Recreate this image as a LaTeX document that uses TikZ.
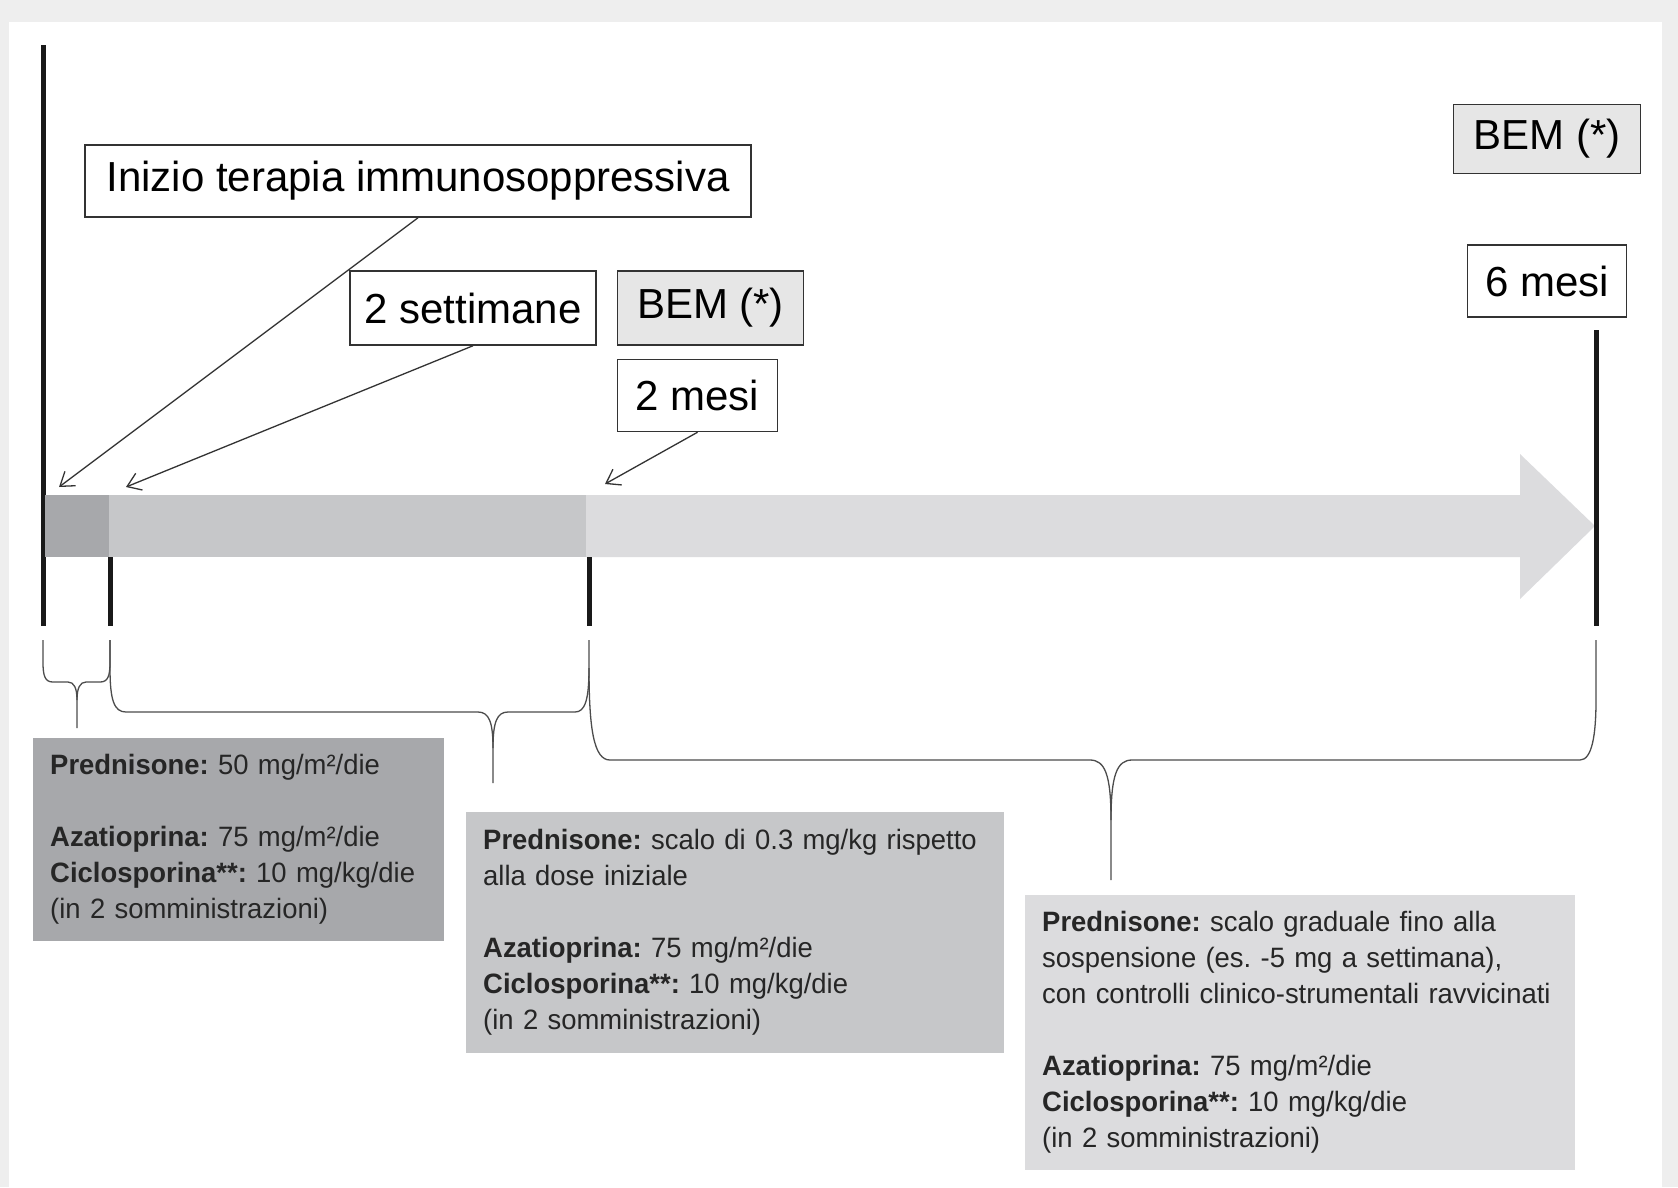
\documentclass[tikz,border=0pt]{standalone}
\usepackage{fontspec}
\setmainfont{Liberation Sans}
\newfontfamily\dosefont[FakeStretch=0.98]{Liberation Sans}
\usepackage{tikz}
\usetikzlibrary{arrows.meta,positioning}
\definecolor{darkseg}{HTML}{A7A8AB}
\definecolor{midseg}{HTML}{C6C7C9}
\definecolor{lightseg}{HTML}{DCDCDE}
\definecolor{bemgray}{HTML}{E6E6E6}
\definecolor{framegray}{HTML}{EEEEEE}

\begin{document}
\frenchspacing
\begin{tikzpicture}[
    x=1pt, y=-1pt,
    lbl/.style={draw=black!80, line width=1.5pt, fill=white, minimum height=72pt, inner sep=0pt, font=\fontsize{42}{50}\selectfont},
    bem/.style={lbl, fill=bemgray},
    dose/.style={anchor=north west, align=left, inner xsep=17pt, inner ysep=0pt, font=\dosefont\fontsize{28}{36}\selectfont, text=black!85},
    arrow/.style={-{Straight Barb[length=13pt, width=18pt]}, line width=1.3pt, draw=black!80},
    brace/.style={line width=1.3pt, draw=black!70},
    tick/.style={line width=5pt, draw=black!90}
]
\useasboundingbox (0,0) rectangle (1678,1187);
\fill[framegray] (0,0) rectangle (1678,1187);
\fill[white] (9,22) rectangle (1662,1187);

% timeline bar
\draw[tick] (43,45) -- (43,626);
\fill[lightseg] (586,495) -- (1520,495) -- (1520,454) -- (1595,526) -- (1520,599) -- (1520,557) -- (586,557) -- cycle;
\fill[midseg] (109,495) rectangle (586,557);
\fill[darkseg] (45,495) rectangle (109,557);
\draw[tick] (110,557) -- (110,626);
\draw[tick] (589,557) -- (589,626);
\draw[tick] (1596,330) -- (1596,626);

% time labels
\node[lbl, minimum width=666pt] (inizio) at (418,181) {Inizio terapia immunosoppressiva};
\node[lbl, minimum width=246pt, minimum height=74pt] (sett) at (473,308) {2 settimane};
\node[bem, minimum width=186pt, minimum height=74pt, right=20pt of sett] (bemA) {BEM (*)};
\node[lbl, minimum width=160pt, below right=13pt and 0pt of bemA.south west] (mesi2) {2 mesi};
\node[bem, minimum width=187pt, minimum height=69pt] (bemB) at (1547,139) {BEM (*)};
\node[lbl, minimum width=159pt, below=70pt of bemB] (mesi6) {6 mesi};

\coordinate (t0) at (59,487);
\coordinate (t1) at (126,487);
\coordinate (t2) at (605,484);
\draw[arrow] (inizio.south) -- (t0);
\draw[arrow] (sett.south) -- (t1);
\draw[arrow] (mesi2.south) -- (t2);

% braces under the phases
\draw[brace] (43,640) -- (43,662) .. controls (43,676) and (45,682) .. (53,682) -- (68,682) .. controls (74,682) and (77,688) .. (77,700) -- (77,728);
\draw[brace] (77,700) .. controls (77,688) and (80,682) .. (86,682) -- (100,682) .. controls (108,682) and (110,676) .. (110,662) -- (110,640);
\draw[brace] (110,640) -- (110,668) .. controls (110,700) and (114,712) .. (126,712) -- (478,712) .. controls (489,712) and (493,722) .. (493,748) -- (493,783);
\draw[brace] (493,748) .. controls (493,722) and (497,712) .. (508,712) -- (575,712) .. controls (585,712) and (589,700) .. (589,668) -- (589,640);
\draw[brace] (589,668) .. controls (589,730) and (594,760) .. (610,760) -- (1090,760) .. controls (1105,760) and (1111,775) .. (1111,820) -- (1111,880);
\draw[brace] (1111,820) .. controls (1111,775) and (1117,760) .. (1132,760) -- (1580,760) .. controls (1592,760) and (1596,735) .. (1596,700) -- (1596,640);

% dosages
\node[dose, fill=darkseg, text width=377pt, minimum height=203pt] (doseA) at (33,738)
  {\textbf{Prednisone:} 50 mg/m²/die\\[36pt]
   \textbf{Azatioprina:} 75 mg/m²/die\\
   \textbf{Ciclosporina**:} 10 mg/kg/die\\
   (in 2 somministrazioni)};
\node[dose, fill=midseg, text width=504pt, minimum height=241pt] (doseB) at (466,812)
  {\textbf{Prednisone:} scalo di 0.3 mg/kg rispetto\\
   alla dose iniziale\\[36pt]
   \textbf{Azatioprina:} 75 mg/m²/die\\
   \textbf{Ciclosporina**:} 10 mg/kg/die\\
   (in 2 somministrazioni)};
\node[dose, fill=lightseg, text width=516pt, minimum height=275pt] (doseC) at (1025,895)
  {\textbf{Prednisone:} scalo graduale fino alla\\
   sospensione (es. -5 mg a settimana),\\
   con controlli clinico-strumentali ravvicinati\\[36pt]
   \textbf{Azatioprina:} 75 mg/m²/die\\
   \textbf{Ciclosporina**:} 10 mg/kg/die\\
   (in 2 somministrazioni)};
\end{tikzpicture}
\end{document}
